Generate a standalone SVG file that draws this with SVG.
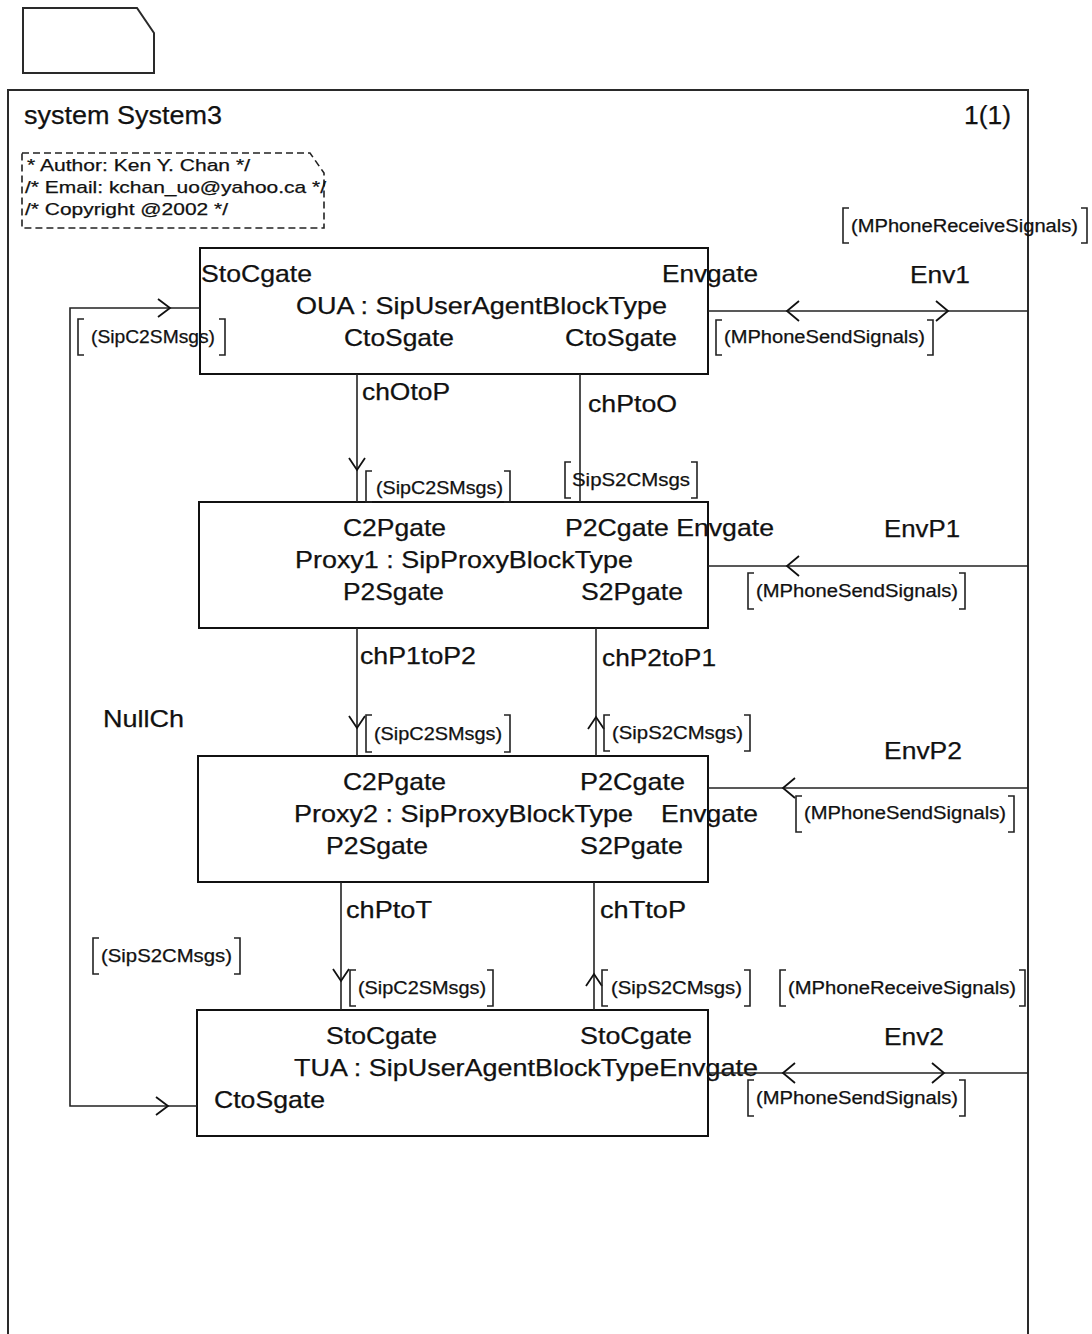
<svg xmlns="http://www.w3.org/2000/svg" width="1092" height="1334" viewBox="0 0 1092 1334">
  <style>
    .frame { fill: none; stroke: #2a2a2a; stroke-width: 2; }
    .blk { fill: none; stroke: #111; stroke-width: 2; }
    .note { fill: none; stroke: #222; stroke-width: 1.6; stroke-dasharray: 7 4; }
    .ch { fill: none; stroke: #222; stroke-width: 1.6; }
    .ah { fill: none; stroke: #111; stroke-width: 1.8; }
    .br { fill: none; stroke: #222; stroke-width: 1.6; }
    text { font-family: "Liberation Sans", Arial, sans-serif; fill: #111; stroke: #111; stroke-width: 0.25; }
    .t { font-size: 24px; }
    .s { font-size: 18px; }
    .ttl { font-size: 26px; }
    .cm { font-size: 17px; }
  </style>

  <!-- page symbol -->
  <path class="frame" d="M23,8 H137 L154,33 V73 H23 Z"/>

  <!-- system frame -->
  <path class="frame" d="M8,1334 V90 H1028 V1334"/>
  <text class="ttl" x="24" y="124" textLength="198" lengthAdjust="spacingAndGlyphs">system System3</text>
  <text class="ttl" x="964" y="124" textLength="47" lengthAdjust="spacingAndGlyphs">1(1)</text>

  <!-- comment -->
  <g id="comment">
    <path class="note" d="M22,153 H310 L324,173 V228 H22 Z"/>
    <text class="cm" x="27" y="171" textLength="223" lengthAdjust="spacingAndGlyphs">* Author: Ken Y. Chan */</text>
    <text class="cm" x="25" y="193" textLength="301" lengthAdjust="spacingAndGlyphs">/* Email: kchan_uo@yahoo.ca */</text>
    <text class="cm" x="25" y="215" textLength="203" lengthAdjust="spacingAndGlyphs">/* Copyright @2002 */</text>
  </g>

  <!-- blocks -->
  <g id="OUA">
    <rect class="blk" x="200" y="248" width="508" height="126"/>
    <text class="t" x="201" y="282" textLength="111" lengthAdjust="spacingAndGlyphs">StoCgate</text>
    <text class="t" x="662" y="282" textLength="96" lengthAdjust="spacingAndGlyphs">Envgate</text>
    <text class="t" x="296" y="314" textLength="371" lengthAdjust="spacingAndGlyphs">OUA : SipUserAgentBlockType</text>
    <text class="t" x="344" y="346" textLength="110" lengthAdjust="spacingAndGlyphs">CtoSgate</text>
    <text class="t" x="565" y="346" textLength="112" lengthAdjust="spacingAndGlyphs">CtoSgate</text>
  </g>

  <g id="Proxy1">
    <rect class="blk" x="199" y="502" width="509" height="126"/>
    <text class="t" x="343" y="536" textLength="103" lengthAdjust="spacingAndGlyphs">C2Pgate</text>
    <text class="t" x="565" y="536" textLength="209" lengthAdjust="spacingAndGlyphs">P2Cgate Envgate</text>
    <text class="t" x="295" y="568" textLength="338" lengthAdjust="spacingAndGlyphs">Proxy1 : SipProxyBlockType</text>
    <text class="t" x="343" y="600" textLength="101" lengthAdjust="spacingAndGlyphs">P2Sgate</text>
    <text class="t" x="581" y="600" textLength="102" lengthAdjust="spacingAndGlyphs">S2Pgate</text>
  </g>

  <g id="Proxy2">
    <rect class="blk" x="198" y="756" width="510" height="126"/>
    <text class="t" x="343" y="790" textLength="103" lengthAdjust="spacingAndGlyphs">C2Pgate</text>
    <text class="t" x="580" y="790" textLength="105" lengthAdjust="spacingAndGlyphs">P2Cgate</text>
    <text class="t" x="294" y="822" textLength="339" lengthAdjust="spacingAndGlyphs">Proxy2 : SipProxyBlockType</text>
    <text class="t" x="661" y="822" textLength="97" lengthAdjust="spacingAndGlyphs">Envgate</text>
    <text class="t" x="326" y="854" textLength="102" lengthAdjust="spacingAndGlyphs">P2Sgate</text>
    <text class="t" x="580" y="854" textLength="103" lengthAdjust="spacingAndGlyphs">S2Pgate</text>
  </g>

  <g id="TUA">
    <rect class="blk" x="197" y="1010" width="511" height="126"/>
    <text class="t" x="326" y="1044" textLength="111" lengthAdjust="spacingAndGlyphs">StoCgate</text>
    <text class="t" x="580" y="1044" textLength="112" lengthAdjust="spacingAndGlyphs">StoCgate</text>
    <text class="t" x="294" y="1076" textLength="464" lengthAdjust="spacingAndGlyphs">TUA : SipUserAgentBlockTypeEnvgate</text>
    <text class="t" x="214" y="1108" textLength="111" lengthAdjust="spacingAndGlyphs">CtoSgate</text>
  </g>

  <!-- channels -->
  <g id="connectors">
    <!-- Env1 -->
    <g id="Env1">
      <path class="ch" d="M708,311 H1028"/>
      <path class="ah" d="M799,301 L787,311 L799,321"/>
      <path class="ah" d="M936,301 L948,311 L936,321"/>
      <text class="t" x="910" y="283" textLength="60" lengthAdjust="spacingAndGlyphs">Env1</text>
      <path class="br" d="M849,208 H843 V243 H849 M1081,208 H1087 V243 H1081"/>
      <text class="s" x="851" y="232" textLength="227" lengthAdjust="spacingAndGlyphs">(MPhoneReceiveSignals)</text>
      <path class="br" d="M722,320 H716 V355 H722 M927,320 H933 V355 H927"/>
      <text class="s" x="724" y="343" textLength="201" lengthAdjust="spacingAndGlyphs">(MPhoneSendSignals)</text>
    </g>

    <!-- NullCh -->
    <g id="NullCh">
      <path class="ch" d="M200,308 H70 V1106 H197"/>
      <path class="ah" d="M158,299 L170,308 L158,317"/>
      <path class="ah" d="M156,1097 L168,1106 L156,1115"/>
      <text class="t" x="103" y="727" textLength="81" lengthAdjust="spacingAndGlyphs">NullCh</text>
      <path class="br" d="M84,319 H78 V355 H84 M219,319 H225 V355 H219"/>
      <text class="s" x="91" y="343" textLength="124" lengthAdjust="spacingAndGlyphs">(SipC2SMsgs)</text>
      <path class="br" d="M99,938 H93 V974 H99 M234,938 H240 V974 H234"/>
      <text class="s" x="101" y="962" textLength="131" lengthAdjust="spacingAndGlyphs">(SipS2CMsgs)</text>
    </g>

    <!-- chOtoP -->
    <g id="chOtoP">
      <path class="ch" d="M357,374 V502"/>
      <path class="ah" d="M349,458 L357,470 L365,458"/>
      <text class="t" x="362" y="400" textLength="88" lengthAdjust="spacingAndGlyphs">chOtoP</text>
      <path class="br" d="M372,471 H366 V502 H372 M504,471 H510 V502 H504"/>
      <text class="s" x="376" y="494" textLength="127" lengthAdjust="spacingAndGlyphs">(SipC2SMsgs)</text>
    </g>

    <!-- chPtoO -->
    <g id="chPtoO">
      <path class="ch" d="M580,374 V502"/>
      <text class="t" x="588" y="412" textLength="89" lengthAdjust="spacingAndGlyphs">chPtoO</text>
      <path class="br" d="M571,462 H565 V498 H571 M691,462 H697 V498 H691"/>
      <text class="s" x="572" y="486" textLength="118" lengthAdjust="spacingAndGlyphs">SipS2CMsgs</text>
    </g>

    <!-- EnvP1 -->
    <g id="EnvP1">
      <path class="ch" d="M708,566 H1028"/>
      <path class="ah" d="M799,556 L787,566 L799,576"/>
      <text class="t" x="884" y="537" textLength="76" lengthAdjust="spacingAndGlyphs">EnvP1</text>
      <path class="br" d="M754,573 H748 V609 H754 M959,573 H965 V609 H959"/>
      <text class="s" x="756" y="597" textLength="202" lengthAdjust="spacingAndGlyphs">(MPhoneSendSignals)</text>
    </g>

    <!-- chP1toP2 -->
    <g id="chP1toP2">
      <path class="ch" d="M357,628 V756"/>
      <path class="ah" d="M349,716 L357,728 L365,716"/>
      <text class="t" x="360" y="664" textLength="116" lengthAdjust="spacingAndGlyphs">chP1toP2</text>
      <path class="br" d="M372,715 H366 V752 H372 M504,715 H510 V752 H504"/>
      <text class="s" x="374" y="740" textLength="128" lengthAdjust="spacingAndGlyphs">(SipC2SMsgs)</text>
    </g>

    <!-- chP2toP1 -->
    <g id="chP2toP1">
      <path class="ch" d="M596,628 V756"/>
      <path class="ah" d="M588,729 L596,717 L604,729"/>
      <text class="t" x="602" y="666" textLength="114" lengthAdjust="spacingAndGlyphs">chP2toP1</text>
      <path class="br" d="M610,715 H604 V751 H610 M744,715 H750 V751 H744"/>
      <text class="s" x="612" y="739" textLength="131" lengthAdjust="spacingAndGlyphs">(SipS2CMsgs)</text>
    </g>

    <!-- EnvP2 -->
    <g id="EnvP2">
      <path class="ch" d="M708,788 H1028"/>
      <path class="ah" d="M795,778 L783,788 L795,798"/>
      <text class="t" x="884" y="759" textLength="78" lengthAdjust="spacingAndGlyphs">EnvP2</text>
      <path class="br" d="M802,796 H796 V832 H802 M1008,796 H1014 V832 H1008"/>
      <text class="s" x="804" y="819" textLength="202" lengthAdjust="spacingAndGlyphs">(MPhoneSendSignals)</text>
    </g>

    <!-- chPtoT -->
    <g id="chPtoT">
      <path class="ch" d="M341,882 V1010"/>
      <path class="ah" d="M333,969 L341,981 L349,969"/>
      <text class="t" x="346" y="918" textLength="86" lengthAdjust="spacingAndGlyphs">chPtoT</text>
      <path class="br" d="M356,970 H350 V1006 H356 M487,970 H493 V1006 H487"/>
      <text class="s" x="358" y="994" textLength="128" lengthAdjust="spacingAndGlyphs">(SipC2SMsgs)</text>
    </g>

    <!-- chTtoP -->
    <g id="chTtoP">
      <path class="ch" d="M594,882 V1010"/>
      <path class="ah" d="M586,986 L594,974 L602,986"/>
      <text class="t" x="600" y="918" textLength="86" lengthAdjust="spacingAndGlyphs">chTtoP</text>
      <path class="br" d="M608,970 H602 V1006 H608 M744,970 H750 V1006 H744"/>
      <text class="s" x="611" y="994" textLength="131" lengthAdjust="spacingAndGlyphs">(SipS2CMsgs)</text>
    </g>

    <!-- Env2 -->
    <g id="Env2">
      <path class="ch" d="M708,1073 H1028"/>
      <path class="ah" d="M795,1063 L783,1073 L795,1083"/>
      <path class="ah" d="M932,1063 L944,1073 L932,1083"/>
      <text class="t" x="884" y="1045" textLength="60" lengthAdjust="spacingAndGlyphs">Env2</text>
      <path class="br" d="M786,970 H780 V1006 H786 M1019,970 H1025 V1006 H1019"/>
      <text class="s" x="788" y="994" textLength="228" lengthAdjust="spacingAndGlyphs">(MPhoneReceiveSignals)</text>
      <path class="br" d="M754,1080 H748 V1116 H754 M959,1080 H965 V1116 H959"/>
      <text class="s" x="756" y="1104" textLength="202" lengthAdjust="spacingAndGlyphs">(MPhoneSendSignals)</text>
    </g>
  </g>
</svg>
